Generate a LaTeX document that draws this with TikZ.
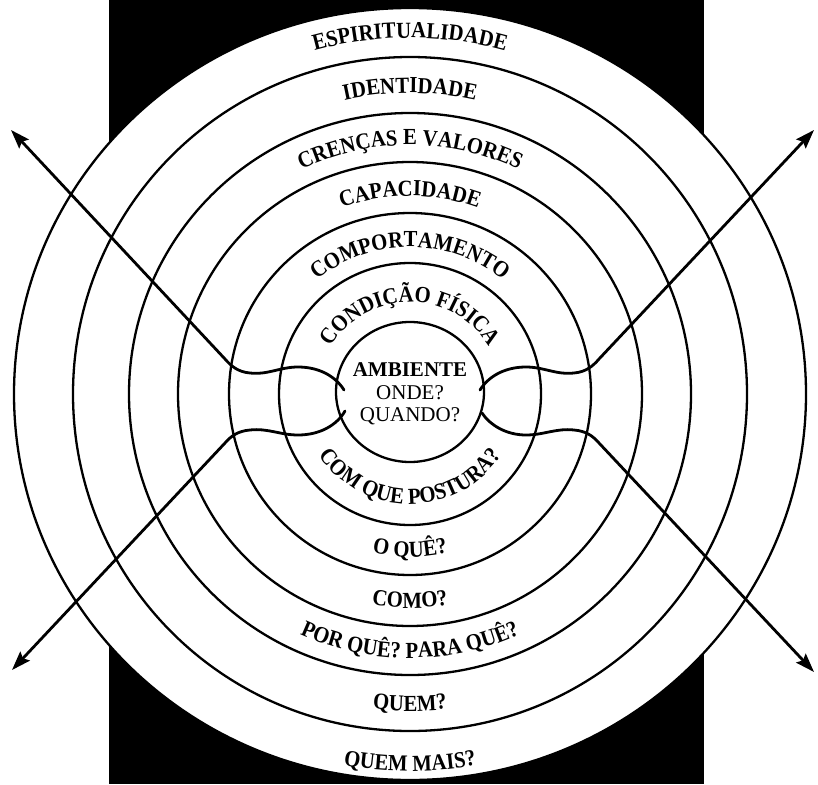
\documentclass[tikz,border=0pt]{standalone}
\usepackage{fontspec}
\setmainfont{Liberation Serif}
\newfontfamily\condfont{Liberation Serif}[FakeStretch=0.9]
\usetikzlibrary{decorations.text,arrows.meta}
\newcommand\lblfont{\condfont\fontsize{23}{23}\selectfont\bfseries}
\newcommand\toplab[2]{\path[decorate,decoration={text along path,text align=center,text={|\lblfont|#2}}] (O) ++(178:#1) arc[start angle=178,end angle=2,radius=#1];}
\newcommand\botlab[2]{\path[decorate,decoration={text along path,text align=center,text={|\lblfont|#2}}] (O) ++(185:#1) arc[start angle=185,end angle=355,radius=#1];}
\begin{document}
\begin{tikzpicture}[x=1pt,y=1pt,
  ring/.style={draw=black,line width=2.3pt},
  arr/.style={draw=black,line width=2.8pt,line cap=round,-{Stealth[length=19pt,width=13pt,inset=3pt]}},
  centertext/.style={font=\fontsize{21}{21}\selectfont,inner sep=0pt}]
\useasboundingbox (0,-784) rectangle (818,0);
\fill[white] (0,-784) rectangle (818,0);
\fill[black] (109,-784) rectangle (704,0);
\coordinate (O) at (410,-394);
% rings
\fill[white] (O) ellipse[x radius=396,y radius=386];
\draw[ring] (O) ellipse[x radius=396,y radius=386];
\draw[ring] (O) circle[radius=337];
\draw[ring] (O) circle[radius=281];
\draw[ring] (O) circle[radius=232];
\draw[ring] (O) circle[radius=181];
\draw[ring] (O) circle[radius=131];
\draw[ring] (410,-392) ellipse[x radius=74,y radius=70];
% labels on top
\toplab{356}{ESPIRITUALIDADE}
\toplab{301}{IDENTIDADE}
\toplab{249}{CRENÇAS E VALORES}
\toplab{198}{CAPACIDADE}
\toplab{147}{COMPORTAMENTO}
\toplab{92}{CONDIÇÃO FÍSICA}
% labels on bottom
\botlab{110}{COM QUE POSTURA?}
\botlab{163}{O QUÊ?}
\botlab{214}{COMO?}
\botlab{264}{POR QUÊ? PARA QUÊ?}
\botlab{317}{QUEM?}
\botlab{377}{QUEM MAIS?}
% center
\node[centertext,font=\fontsize{21}{21}\selectfont\bfseries] (amb) at (410,-370) {AMBIENTE};
\node[centertext] (onde) at (410,-393) {ONDE?};
\node[centertext] (quando) at (410,-416) {QUANDO?};
% arrow end points
\coordinate (ULin) at (344,-390);
\coordinate (ULtip) at (11,-130);
\coordinate (LLin) at (345,-411);
\coordinate (LLtip) at (12,-670);
\coordinate (URin) at (480,-390);
\coordinate (URtip) at (814,-130);
\coordinate (LRin) at (482,-413);
\coordinate (LRtip) at (814,-672);
% arrows
\draw[arr] (ULin) .. controls (336,-377) and (320,-367) .. (298,-367)
  .. controls (280,-367) and (268,-375) .. (250,-373)
  .. controls (238,-372) and (231,-366) .. (225,-359) -- (ULtip);
\draw[arr] (LLin) .. controls (337,-425) and (320,-435) .. (298,-435)
  .. controls (280,-435) and (268,-428) .. (250,-430)
  .. controls (238,-431) and (231,-436) .. (225,-443) -- (LLtip);
\draw[arr] (URin) .. controls (488,-377) and (504,-367) .. (526,-367)
  .. controls (544,-367) and (556,-375) .. (574,-373)
  .. controls (586,-372) and (593,-366) .. (599,-359) -- (URtip);
\draw[arr] (LRin) .. controls (490,-425) and (506,-435) .. (526,-435)
  .. controls (544,-435) and (556,-428) .. (574,-430)
  .. controls (586,-431) and (593,-436) .. (599,-443) -- (LRtip);
\end{tikzpicture}
\end{document}
